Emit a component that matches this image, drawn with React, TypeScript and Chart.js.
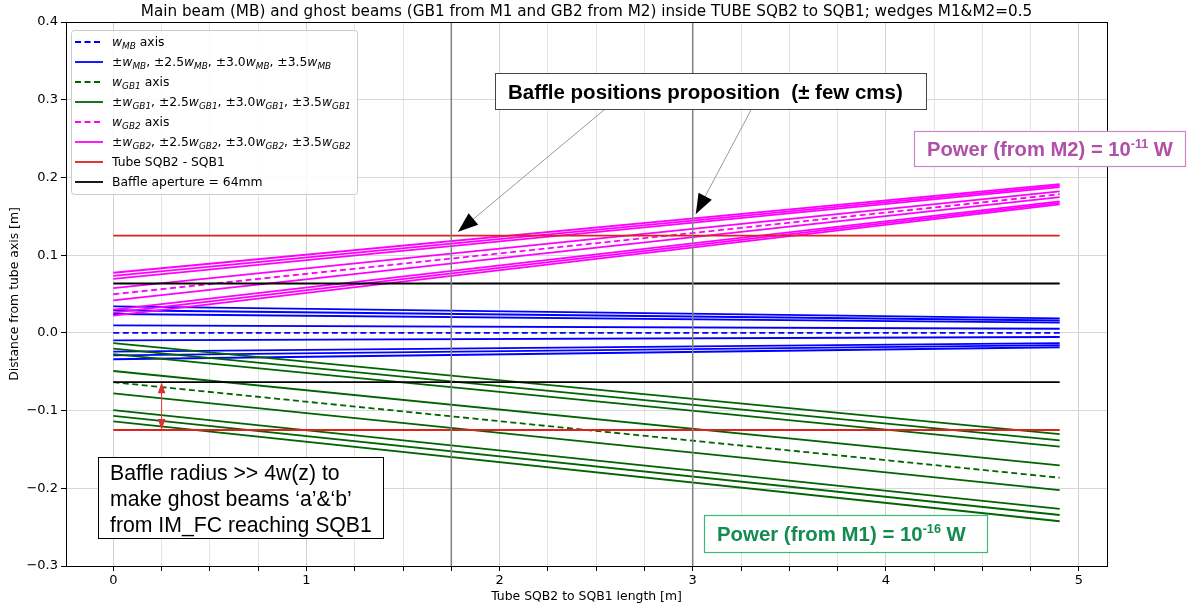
import React, { useEffect, useRef } from 'react';
import { Chart, registerables } from 'chart.js';

Chart.register(...registerables);

// ---------------- data ----------------
const zEnds = [0, 4.9];
const mbCenter = [0.0, 0.0];
const mbWidth = [0.0097, 0.0053];
const gb1Center = [-0.0635, -0.1864];
const gb1Width = [0.0144, 0.016];
const gb2Center = [0.0497, 0.1784];
const gb2Width = [0.0079, 0.0037];
const widthFactors = [1.0, 2.5, 3.0, 3.5];
const tubeRadius = [0.125, 0.125];
const baffleRadius = [0.0635, 0.0635];
const bafflePositions = [1.75, 3.0];
const xRange = [-0.245, 5.145];
const yRange = [-0.3, 0.4];
const xTickValues = [0, 0.25, 0.5, 0.75, 1, 1.25, 1.5, 1.75, 2, 2.25, 2.5, 2.75, 3, 3.25, 3.5, 3.75, 4, 4.25, 4.5, 4.75, 5];
const xLabelValues = [0, 1, 2, 3, 4, 5];
const yTickValues = [-0.3, -0.2, -0.1, 0.0, 0.1, 0.2, 0.3, 0.4];
const radiusArrowX = 0.25;
const baffleArrowTips = [
  [1.785, 0.13],
  [3.016, 0.153],
];

const titleText =
  'Main beam (MB) and ghost beams (GB1 from M1 and GB2 from M2) inside TUBE SQB2 to SQB1; wedges M1&M2=0.5';
const xTitle = 'Tube SQB2 to SQB1 length [m]';
const yTitle = 'Distance from tube axis [m]';
const bafflePosText = 'Baffle positions proposition  (± few cms)';
const baffleRadiusLines = ['Baffle radius >> 4w(z) to', 'make ghost beams \u2018a\u2019&\u2018b\u2019', 'from IM_FC reaching SQB1'];

const BLUE = '#0000ff';
const GREEN = '#006400';
const MAGENTA = '#ff00ff';
const RED = '#e0201c';
const BLACK = '#000000';
const GRAYV = '#808080';
const FONT = '"DejaVu Sans", sans-serif';
const AFONT = '"Liberation Sans", Arial, sans-serif';
const LW = 1.8;

type Seg = { t: string; it?: boolean; sub?: boolean; sup?: boolean };
const W = (s: string): Seg[] => [{ t: 'w', it: true }, { t: s, it: true, sub: true }];
const widthsLabel = (s: string): Seg[] => [
  { t: '±' }, ...W(s), { t: ', ±2.5' }, ...W(s), { t: ', ±3.0' }, ...W(s), { t: ', ±3.5' }, ...W(s),
];

const legendEntries: { color: string; dash: boolean; segs: Seg[] }[] = [
  { color: BLUE, dash: true, segs: [...W('MB'), { t: ' axis' }] },
  { color: BLUE, dash: false, segs: widthsLabel('MB') },
  { color: GREEN, dash: true, segs: [...W('GB1'), { t: ' axis' }] },
  { color: GREEN, dash: false, segs: widthsLabel('GB1') },
  { color: MAGENTA, dash: true, segs: [...W('GB2'), { t: ' axis' }] },
  { color: MAGENTA, dash: false, segs: widthsLabel('GB2') },
  { color: RED, dash: false, segs: [{ t: 'Tube SQB2 - SQB1' }] },
  { color: BLACK, dash: false, segs: [{ t: 'Baffle aperture = 64mm' }] },
];

// ---------------- helpers ----------------
function segFont(s: Seg, size: number, weight: string, family: string) {
  const sz = s.sub ? size * 0.72 : s.sup ? size * 0.62 : size;
  return `${s.it ? 'italic ' : ''}${weight} ${sz}px ${family}`;
}
function measureRich(ctx: CanvasRenderingContext2D, segs: Seg[], size: number, weight: string, family: string) {
  let w = 0;
  for (const s of segs) {
    ctx.font = segFont(s, size, weight, family);
    w += ctx.measureText(s.t).width;
  }
  return w;
}
function drawRich(
  ctx: CanvasRenderingContext2D, segs: Seg[], x: number, y: number, size: number,
  weight: string, family: string, color: string,
) {
  ctx.fillStyle = color;
  ctx.textAlign = 'left';
  ctx.textBaseline = 'alphabetic';
  let cx = x;
  for (const s of segs) {
    ctx.font = segFont(s, size, weight, family);
    const dy = s.sub ? size * 0.22 : s.sup ? -size * 0.42 : 0;
    ctx.fillText(s.t, cx, y + dy);
    cx += ctx.measureText(s.t).width;
  }
}
function fitSize(ctx: CanvasRenderingContext2D, segs: Seg[], weight: string, family: string, target: number) {
  const w = measureRich(ctx, segs, 20, weight, family);
  return (20 * target) / w;
}
function arrowHead(ctx: CanvasRenderingContext2D, fx: number, fy: number, tx: number, ty: number, len: number, half: number, color: string) {
  const a = Math.atan2(ty - fy, tx - fx);
  const bx = tx - len * Math.cos(a);
  const by = ty - len * Math.sin(a);
  ctx.fillStyle = color;
  ctx.beginPath();
  ctx.moveTo(tx, ty);
  ctx.lineTo(bx + half * Math.sin(a), by - half * Math.cos(a));
  ctx.lineTo(bx - half * Math.sin(a), by + half * Math.cos(a));
  ctx.closePath();
  ctx.fill();
}

function lineDs(xs: number[], ys: number[], color: string, dashed: boolean, width = LW) {
  return {
    data: xs.map((x, i) => ({ x, y: ys[i] })),
    borderColor: color,
    backgroundColor: color,
    borderWidth: width,
    borderDash: dashed ? [6, 3.5] : [],
    pointRadius: 0,
    fill: false,
    tension: 0,
  };
}

function beamDatasets(center: number[], width: number[], color: string) {
  const out: any[] = [lineDs(zEnds, center, color, true)];
  for (const k of widthFactors) {
    out.push(lineDs(zEnds, center.map((c, i) => c + k * width[i]), color, false));
    out.push(lineDs(zEnds, center.map((c, i) => c - k * width[i]), color, false));
  }
  return out;
}

const overlayPlugin = {
  id: 'overlay',
  afterDraw(chart: any) {
    const ctx: CanvasRenderingContext2D = chart.ctx;
    const ca = chart.chartArea;
    const xs = chart.scales.x;
    const ys = chart.scales.y;
    ctx.save();

    // frame
    ctx.strokeStyle = '#000';
    ctx.lineWidth = 1;
    ctx.setLineDash([]);
    ctx.strokeRect(Math.round(ca.left) + 0.5, Math.round(ca.top) + 0.5, Math.round(ca.right - ca.left), Math.round(ca.bottom - ca.top));

    // title
    {
      const segs = [{ t: titleText }];
      const sz = fitSize(ctx, segs, 'normal', FONT, 892);
      ctx.font = `normal ${sz}px ${FONT}`;
      ctx.fillStyle = '#000';
      ctx.textAlign = 'center';
      ctx.textBaseline = 'middle';
      ctx.fillText(titleText, (ca.left + ca.right) / 2, 12);
    }
    // axis titles
    {
      const sz = fitSize(ctx, [{ t: xTitle }], 'normal', FONT, 191);
      ctx.font = `normal ${sz}px ${FONT}`;
      ctx.fillStyle = '#000';
      ctx.textAlign = 'center';
      ctx.textBaseline = 'middle';
      ctx.fillText(xTitle, (ca.left + ca.right) / 2, 597);
      ctx.save();
      ctx.translate(15, (ca.top + ca.bottom) / 2);
      ctx.rotate(-Math.PI / 2);
      ctx.fillText(yTitle, 0, 0);
      ctx.restore();
    }

    // red double arrow between baffle and tube
    {
      const px = xs.getPixelForValue(radiusArrowX);
      const y1 = ys.getPixelForValue(-baffleRadius[0]);
      const y2 = ys.getPixelForValue(-tubeRadius[0]);
      ctx.strokeStyle = '#e03030';
      ctx.lineWidth = 1;
      ctx.beginPath();
      ctx.moveTo(px, y1 + 8);
      ctx.lineTo(px, y2 - 8);
      ctx.stroke();
      arrowHead(ctx, px, y2, px, y1, 11, 3.8, '#e03030');
      arrowHead(ctx, px, y1, px, y2, 11, 3.8, '#e03030');
    }

    // baffle positions box + arrows
    {
      const starts = [[604, 110], [751, 110]];
      baffleArrowTips.forEach((tip, i) => {
        const tx = xs.getPixelForValue(tip[0]);
        const ty = ys.getPixelForValue(tip[1]);
        const [sx, sy] = starts[i];
        ctx.strokeStyle = '#999';
        ctx.lineWidth = 1;
        ctx.beginPath();
        ctx.moveTo(sx, sy);
        ctx.lineTo(tx, ty);
        ctx.stroke();
        arrowHead(ctx, sx, sy, tx, ty, 20, 7.5, '#000');
      });
      ctx.fillStyle = '#fff';
      ctx.fillRect(495.5, 73.5, 431, 36);
      ctx.strokeStyle = '#444';
      ctx.strokeRect(495.5, 73.5, 431, 36);
      const segs = [{ t: bafflePosText }];
      const sz = fitSize(ctx, segs, 'bold', AFONT, 395);
      drawRich(ctx, segs, 508, 91.5 + sz * 0.36, sz, 'bold', AFONT, '#000');
    }

    // power M2
    {
      const segs: Seg[] = [{ t: 'Power (from M2) = 10' }, { t: '-11', sup: true }, { t: ' W' }];
      ctx.fillStyle = '#fff';
      ctx.fillRect(914.5, 131.5, 271, 35);
      ctx.strokeStyle = '#cf86c8';
      ctx.lineWidth = 1.2;
      ctx.strokeRect(914.5, 131.5, 271, 35);
      const sz = fitSize(ctx, segs, 'bold', AFONT, 246);
      drawRich(ctx, segs, 927, 149 + sz * 0.36, sz, 'bold', AFONT, '#b050a8');
    }
    // power M1
    {
      const segs: Seg[] = [{ t: 'Power (from M1) = 10' }, { t: '-16', sup: true }, { t: ' W' }];
      ctx.fillStyle = '#fff';
      ctx.fillRect(704.5, 515.5, 283, 37);
      ctx.strokeStyle = '#3cb878';
      ctx.lineWidth = 1.2;
      ctx.strokeRect(704.5, 515.5, 283, 37);
      const sz = fitSize(ctx, segs, 'bold', AFONT, 249);
      drawRich(ctx, segs, 717, 534 + sz * 0.36, sz, 'bold', AFONT, '#148c50');
    }
    // baffle radius text box
    {
      ctx.fillStyle = '#fff';
      ctx.fillRect(98.5, 457.5, 285, 81);
      ctx.strokeStyle = '#000';
      ctx.lineWidth = 1;
      ctx.strokeRect(98.5, 457.5, 285, 81);
      const sz = fitSize(ctx, [{ t: baffleRadiusLines[2] }], 'normal', AFONT, 262);
      baffleRadiusLines.forEach((l, i) => {
        drawRich(ctx, [{ t: l }], 110, 472 + i * 26 + sz * 0.36, sz, 'normal', AFONT, '#000');
      });
    }

    // legend
    {
      const lx = 71, ly = 30, lw = 286, lh = 164;
      ctx.fillStyle = 'rgba(255,255,255,0.85)';
      ctx.strokeStyle = '#cccccc';
      ctx.lineWidth = 1;
      ctx.beginPath();
      (ctx as any).roundRect(lx + 0.5, ly + 0.5, lw, lh, 3);
      ctx.fill();
      ctx.stroke();
      legendEntries.forEach((e, i) => {
        const cy = 42 + i * 20;
        ctx.strokeStyle = e.color;
        ctx.lineWidth = LW;
        ctx.setLineDash(e.dash ? [6, 3.5] : []);
        ctx.beginPath();
        ctx.moveTo(75, cy);
        ctx.lineTo(103, cy);
        ctx.stroke();
        ctx.setLineDash([]);
        drawRich(ctx, e.segs, 112, cy + 4.4, 12.35, 'normal', FONT, '#000');
      });
    }

    ctx.restore();
  },
};

export default function App() {
  const ref = useRef<HTMLCanvasElement | null>(null);
  useEffect(() => {
    if (!ref.current) return;
    const datasets: any[] = [
      ...beamDatasets(mbCenter, mbWidth, BLUE),
      ...beamDatasets(gb1Center, gb1Width, GREEN),
      ...beamDatasets(gb2Center, gb2Width, MAGENTA),
      lineDs(zEnds, tubeRadius, RED, false),
      lineDs(zEnds, tubeRadius.map((r) => -r), RED, false),
      lineDs(zEnds, baffleRadius, BLACK, false),
      lineDs(zEnds, baffleRadius.map((r) => -r), BLACK, false),
      ...bafflePositions.map((p) => lineDs([p, p], yRange, GRAYV, false, 1.5)),
    ].reverse();

    const chart = new Chart(ref.current, {
      type: 'line',
      data: { datasets },
      options: {
        animation: false,
        responsive: false,
        maintainAspectRatio: false,
        layout: { padding: { left: 0, right: 93, top: 22, bottom: 0 } },
        plugins: {
          legend: { display: false },
          title: { display: false },
          tooltip: { enabled: false },
        },
        scales: {
          x: {
            type: 'linear',
            min: xRange[0],
            max: xRange[1],
            afterFit: (s: any) => { s.height = 44; },
            afterBuildTicks: (s: any) => { s.ticks = xTickValues.map((v) => ({ value: v })); },
            ticks: {
              autoSkip: false,
              maxRotation: 0,
              padding: 2,
              color: '#000',
              font: { family: FONT, size: 13 },
              callback: (v: any) => (xLabelValues.includes(v) ? String(v) : ''),
            },
            grid: {
              color: (c: any) => (c.tick && xLabelValues.includes(c.tick.value) ? '#d2d2d2' : '#e4e4e4'),
              tickLength: 5,
              tickColor: '#000',
            },
            border: { color: '#000', width: 1 },
          },
          y: {
            type: 'linear',
            min: yRange[0],
            max: yRange[1],
            afterFit: (s: any) => { s.width = 66; },
            afterBuildTicks: (s: any) => { s.ticks = yTickValues.map((v) => ({ value: v })); },
            ticks: {
              autoSkip: false,
              padding: 3,
              color: '#000',
              font: { family: FONT, size: 13 },
              callback: (v: any) => {
                const r = Math.round(v * 10) / 10;
                return (r < 0 ? '\u2212' : '') + Math.abs(r).toFixed(1);
              },
            },
            grid: { color: '#d8d8d8', tickLength: 5, tickColor: '#000' },
            border: { color: '#000', width: 1 },
          },
        },
      },
      plugins: [overlayPlugin],
    } as any);
    return () => chart.destroy();
  }, []);

  return (
    <div style={{ position: 'absolute', left: 0, top: 0, width: 1200, height: 610, background: '#fff' }}>
      <canvas ref={ref} width={1200} height={610} style={{ display: 'block' }} />
    </div>
  );
}
